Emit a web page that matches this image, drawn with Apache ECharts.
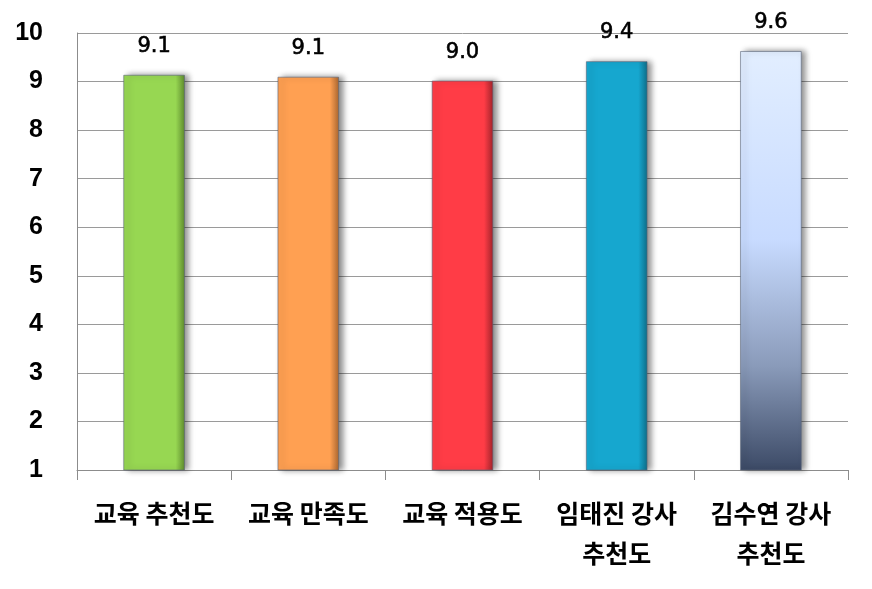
<!DOCTYPE html>
<html><head><meta charset="utf-8">
<script src="https://cdn.jsdelivr.net/npm/echarts@6/dist/echarts.min.js"></script>
<style>html,body{margin:0;padding:0;background:#fff}#c{width:872px;height:589px}</style>
</head><body><div id="c"></div>
<script>
const categories = ['교육 추천도', '교육 만족도', '교육 적용도', '임태진 강사\n추천도', '김수연 강사\n추천도'];
const values = [9.14, 9.1, 9.02, 9.42, 9.63];
const yTicks = [1, 2, 3, 4, 5, 6, 7, 8, 9, 10];

function hgrad(c, dark){
  return new echarts.graphic.LinearGradient(0,0,1,0,[
    {offset:0,color:c},{offset:0.85,color:c},{offset:1,color:dark}]);
}
const colors = [
  hgrad('#97D752','#5E8A2E'),
  hgrad('#FFA052','#A8652F'),
  hgrad('#FF3C46','#A0232A'),
  hgrad('#16A7CF','#0E6D88'),
  new echarts.graphic.LinearGradient(0,0,0,1,[
    {offset:0,color:'#E2EEFF'},{offset:0.45,color:'#C8DBFF'},{offset:0.75,color:'#8A9BBA'},{offset:1,color:'#3C4A66'}])
];

const chart = echarts.init(document.getElementById('c'));
chart.setOption({
  animation:false,
  grid:{left:77,right:24,top:33,bottom:119},
  xAxis:{
    type:'category', data:categories,
    axisLine:{show:true,lineStyle:{color:'#8c8c8c',width:1}},
    axisTick:{show:true,length:10,lineStyle:{color:'#8c8c8c'}},
    axisLabel:{interval:0,margin:23,fontSize:25,fontWeight:'bold',color:'#000',
      fontFamily:'"Noto Sans CJK KR", sans-serif',lineHeight:40}
  },
  yAxis:{
    type:'value',min:yTicks[0],max:yTicks[yTicks.length-1],interval:1,
    axisLine:{show:true,lineStyle:{color:'#8c8c8c'}},
    axisTick:{show:false},
    splitLine:{lineStyle:{color:'#9a9a9a',width:1}},
    axisLabel:{margin:34,fontSize:25,fontWeight:'bold',color:'#000',fontFamily:'"Liberation Sans", Arial, sans-serif'}
  },
  series:[{
    type:'bar', barWidth:'40%',
    data: values.map((v,i)=>({value:v,itemStyle:{color:colors[i]}})),
    itemStyle:{borderColor:'rgba(90,100,120,0.6)',borderWidth:1,shadowColor:'rgba(0,0,0,0.45)',shadowBlur:6,shadowOffsetX:4,shadowOffsetY:0},
    label:{show:true,position:'top',distance:18,fontSize:21,color:'#000',
      textBorderColor:'#000',textBorderWidth:0.6,
      fontFamily:'"DejaVu Sans", Verdana, sans-serif',
      formatter:p=>p.value.toFixed(1)}
  }]
});
</script></body></html>
